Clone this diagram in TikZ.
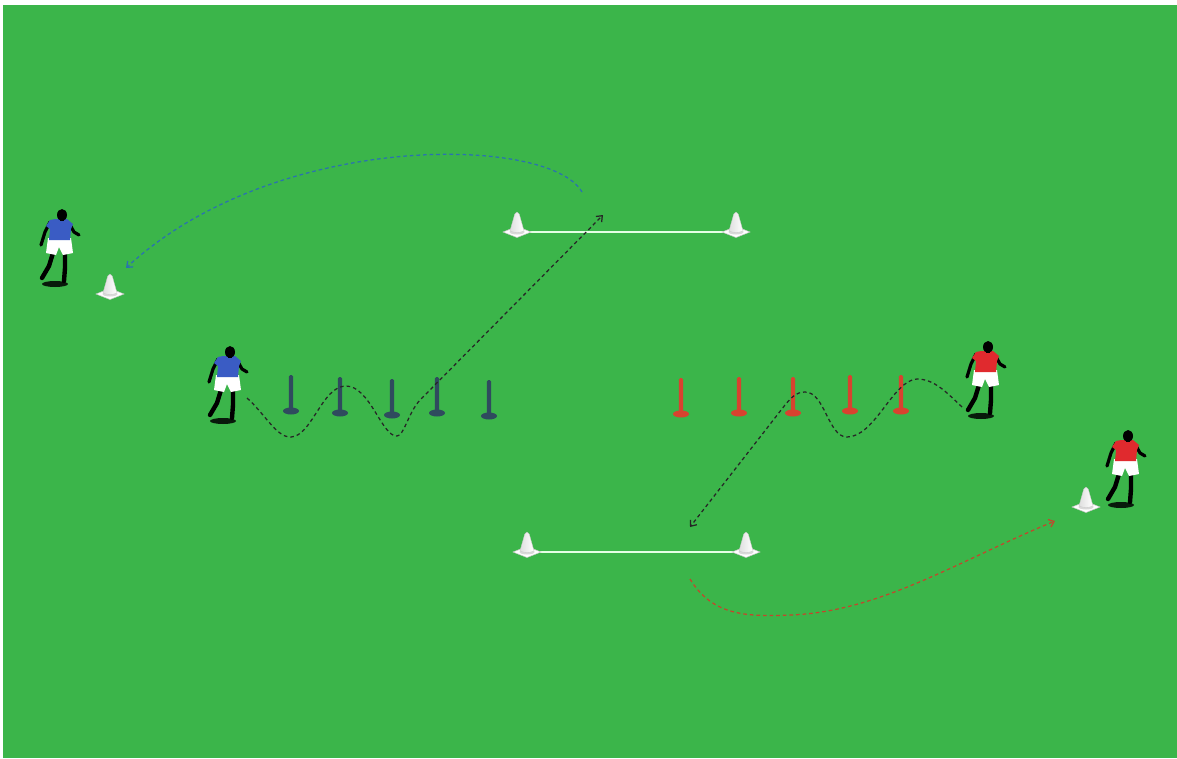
\documentclass[tikz,border=0pt]{standalone}
\usetikzlibrary{arrows.meta}

\definecolor{pitch}{HTML}{3BB54A}
\definecolor{shirtblue}{HTML}{3A5CC4}
\definecolor{shirtred}{HTML}{E02A2E}
\definecolor{poleslate}{HTML}{2F4B5E}
\definecolor{polered}{HTML}{D8432F}
\definecolor{runblue}{HTML}{2A72B0}
\definecolor{runred}{HTML}{C2472C}

\tikzset{
  run/.style={dashed, dash pattern=on 3.6pt off 3pt, line width=1.25pt, -{Straight Barb[length=5pt,width=8pt]}},
  dribble/.style={black!85, dashed, dash pattern=on 3.6pt off 3pt, line width=1.25pt},
  gate/.style={white!90!green, line width=1.6pt},
  pics/player/.style={code={
    % ground shadow
    \fill[black, opacity=.85] (-7,69) ellipse [x radius=13, y radius=3];
    % legs
    \draw[black, line width=4.4pt, line cap=round, line join=round] (-9,38) -- (-13,51) -- (-20,63);
    \draw[black, line width=4.4pt, line cap=round, line join=round] (3,38) -- (3,53) -- (2,66);
    % arms
    \draw[black, line width=3.2pt, line cap=round, line join=round] (-12,7) -- (-17,17) -- (-21,30);
    \draw[black, line width=3.2pt, line cap=round, line join=round] (7,8) -- (12,17) -- (17,20);
    % shorts
    \fill[white] (-14,23) -- (9,23) -- (11,38) -- (1,40) -- (-3,32) -- (-6,40) -- (-16,38) -- cycle;
    % shirt
    \fill[#1] (-7,4) -- (5,4) -- (11,9) -- (9,14) -- (8,25) -- (-13,25) -- (-12,14) -- (-16,11) -- (-12,5) -- cycle;
    % head and neck
    \fill[black] (-2,2) rectangle (2,6);
    \fill[black] (0,0) ellipse [x radius=5, y radius=6];
  }},
  pics/pole/.style={code={
    \fill[#1] (0,0) ellipse [x radius=8, y radius=3.5];
    \fill[#1, rounded corners=1.5pt] (-2.2,0) rectangle (2.2,-36);
  }},
  pics/cone/.style={code={
    \filldraw[fill=white, draw=gray!45, line width=0.5pt] (-14,0) -- (0,-5.5) -- (14,0) -- (0,5.5) -- cycle;
    \fill[gray!30] (0,0) ellipse [x radius=7.5, y radius=2.5];
    \shade[left color=gray!25, right color=white, draw=gray!40, line width=0.4pt]
      (-7,-1) -- (-2.2,-18) .. controls (-1.5,-20.5) and (1.5,-20.5) .. (2.2,-18) -- (7,-1)
      .. controls (3,1) and (-3,1) .. (-7,-1) -- cycle;
  }}
}

\begin{document}
\begin{tikzpicture}[x=1pt, y=-1pt]
\useasboundingbox (0,0) rectangle (1177,758);
\fill[white] (0,0) rectangle (1177,758);
\fill[pitch] (3,5) rectangle (1177,758);

% cone positions
\coordinate (cTL) at (517,232);
\coordinate (cTR) at (736,232);
\coordinate (cBL) at (527,552);
\coordinate (cBR) at (746,552);
\coordinate (cBlue) at (110,294);
\coordinate (cRed) at (1086,507);

% gate lines
\draw[gate] (cTL) -- (cTR);
\draw[gate] (cBL) -- (cBR);

% cones
\foreach \c in {cTL,cTR,cBL,cBR,cBlue,cRed} \pic at (\c) {cone};

% blue poles
\foreach \x/\y in {291/411, 340/413, 392/415, 437/413, 489/416}
  \pic at (\x,\y) {pole=poleslate};
% red poles
\foreach \x/\y in {681/414, 739/413, 793/413, 850/411, 901/411}
  \pic at (\x,\y) {pole=polered};

% players
\pic (bA) at (62,215) {player=shirtblue};
\pic (bB) at (230,352) {player=shirtblue};
\begin{scope}[xscale=-1]
  \pic (rA) at (-988,347) {player=shirtred};
  \pic (rB) at (-1128,436) {player=shirtred};
\end{scope}

% run endpoints
\coordinate (bDribS) at (247,398);
\coordinate (bPassE) at (603,215);
\coordinate (bRunS) at (582,192);
\coordinate (bRunE) at (126,268);
\coordinate (rDribS) at (962,407);
\coordinate (rPassE) at (690,527);
\coordinate (rRunS) at (690,579);
\coordinate (rRunE) at (1055,521);

% blue dribble through the poles, then run to the gate
\draw[dribble, -{Straight Barb[length=5pt,width=8pt]}] (bDribS)
  .. controls (265,414) and (277,438) .. (291,437)
  .. controls (312,436) and (322,386) .. (346,386)
  .. controls (370,386) and (382,437) .. (397,436)
  .. controls (404,436) and (408,413) .. (420,400)
  -- (bPassE);

% blue return run
\draw[run, runblue] (bRunS) .. controls (550,135) and (275,130) .. (bRunE);

% red dribble through the poles, then run to the gate
\draw[dribble, -{Straight Barb[length=5pt,width=8pt]}] (rDribS)
  .. controls (948,394) and (935,379) .. (917,379)
  .. controls (893,380) and (875,437) .. (847,437)
  .. controls (828,437) and (825,392) .. (805,392)
  .. controls (796,392) and (791,398) .. (785,405)
  -- (rPassE);

% red return run
\draw[run, runred] (rRunS) .. controls (712,615) and (745,617) .. (790,615)
  .. controls (880,612) and (960,560) .. (rRunE);
\end{tikzpicture}
\end{document}
